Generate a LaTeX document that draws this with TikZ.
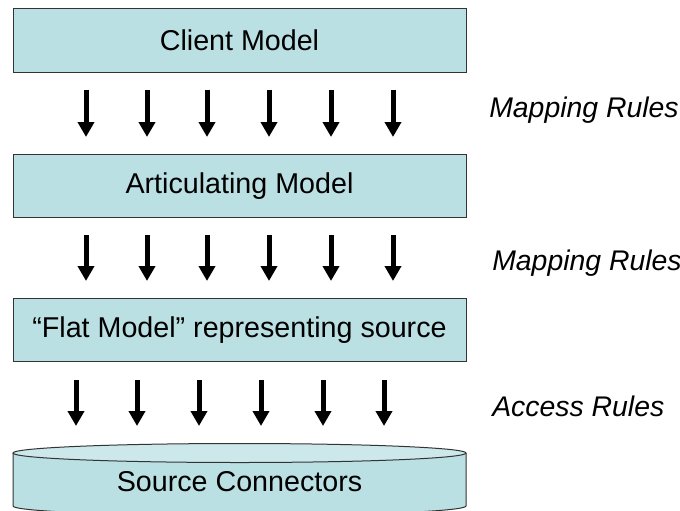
\documentclass[tikz,border=0pt]{standalone}
\usepackage{fontspec}
\setmainfont{Liberation Sans}
\usetikzlibrary{arrows.meta}
\usetikzlibrary{calc}
\usetikzlibrary{positioning}
\usepackage{xcolor}
\definecolor{boxfill}{HTML}{BBE0E3}
\definecolor{boxline}{HTML}{333333}

\tikzset{
  layer/.style={draw=boxline, line width=.75pt, fill=boxfill, minimum width=339.75pt,
                minimum height=47.25pt, inner sep=0pt, font=\fontsize{21.5}{25}\selectfont},
  rulelabel/.style={anchor=base west, inner sep=0pt, font=\fontsize{21.3}{25}\selectfont\itshape},
  fatarrow/.style={line width=3.75pt, -{Triangle[width=12pt,length=11.25pt]}}
}

\begin{document}
\begin{tikzpicture}[x=.75pt, y=-.75pt]
     \useasboundingbox (0,0) rectangle (680,510);

     \node[layer] (client) at (239.5, 40.5)  {Client Model};
     \node[layer] (artic)  at (239.5, 186)   {Articulating Model};
     \node[layer] (flat)   at (239.5, 330)   {``Flat Model'' representing source};

     % source connectors drum
     \coordinate (drumtop) at (239.5, 443);
     \fill[boxfill] (13,453) -- (13,506) arc[start angle=180, end angle=0, x radius=226.5, y radius=9.5]
         -- (466,453) -- cycle;
     \draw[boxline, line width=.75pt] (13,453) -- (13,506) arc[start angle=180, end angle=0, x radius=226.5, y radius=9.5]
         -- (466,453);
     \draw[boxline, line width=.75pt, fill=boxfill!75!white] (239.5,453) ellipse[x radius=226.5, y radius=9.5];
     \node[font=\fontsize{21.5}{25}\selectfont] (src) at (239.5, 482) {Source Connectors};

     \foreach \x in {86,147,207,269,331,393}
       \draw[fatarrow] ($(\x,0 |- client.south)+(0,17)$) -- ($(\x,0 |- artic.north)+(0,-17)$);
     \foreach \x in {86,147,207,269,331,393}
       \draw[fatarrow] ($(\x,0 |- artic.south)+(0,17)$) -- ($(\x,0 |- flat.north)+(0,-17)$);
     \foreach \x in {76,137,199,261,323,384}
       \draw[fatarrow] ($(\x,0 |- flat.south)+(0,18)$) -- ($(\x,0 |- drumtop)+(0,-17)$);

     \node[rulelabel] (map1) at (489, 117) {Mapping Rules};
     \node[rulelabel] (map2) at (492, 270) {Mapping Rules};
     \node[rulelabel] (acc)  at (492, 416) {Access Rules};
\end{tikzpicture}
\end{document}
